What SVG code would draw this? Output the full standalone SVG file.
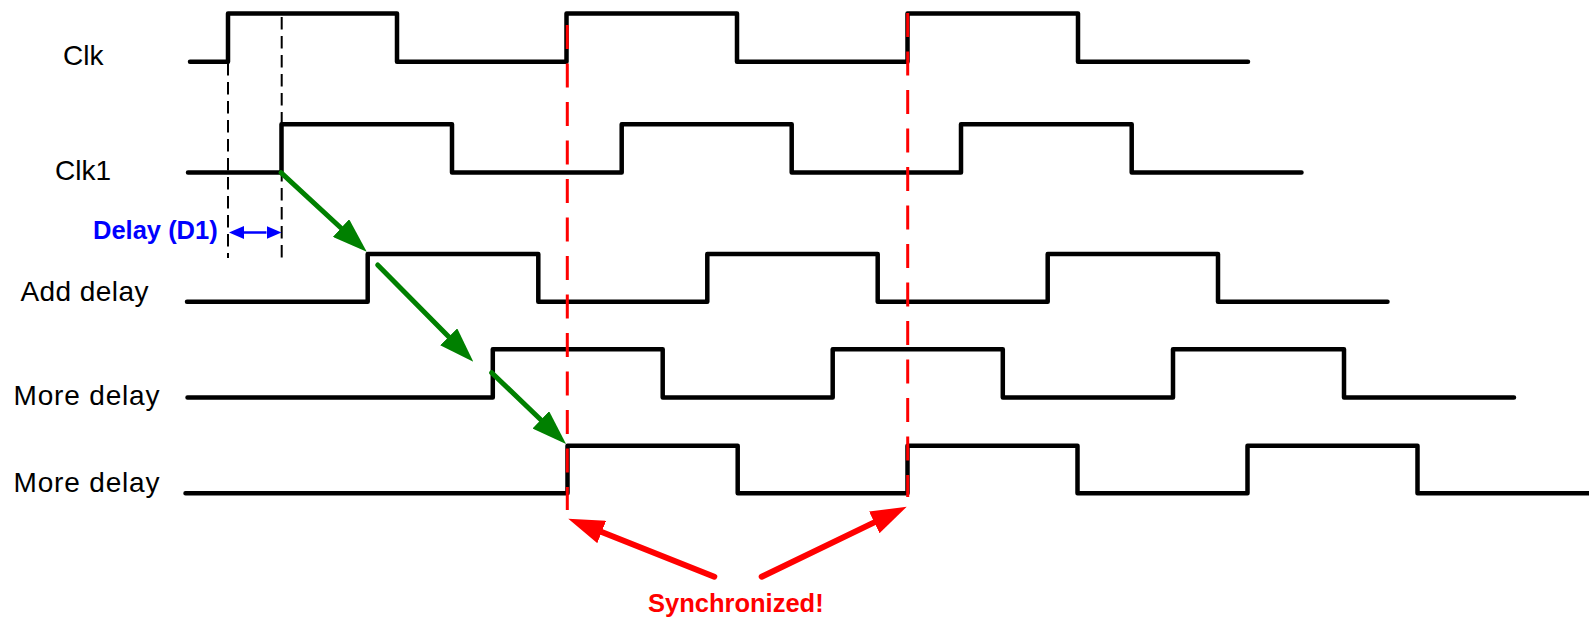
<svg xmlns="http://www.w3.org/2000/svg" width="1589" height="617" viewBox="0 0 1589 617">
  <style>
    .lbl { font-family: "Liberation Sans", Arial, sans-serif; font-size: 28px; fill: #000; }
    .wave { fill: none; stroke: #000; stroke-width: 4.5; stroke-linejoin: round; stroke-linecap: round; }
    .guide { stroke: #000; stroke-width: 2; stroke-dasharray: 12.5 6.5; fill: none; }
    .sync { stroke: #ff0000; stroke-width: 3; stroke-dasharray: 24 14.5; fill: none; }
    .step { stroke: #008000; stroke-width: 5; stroke-linecap: round; fill: none; marker-end: url(#headGreen); }
    .callout { stroke: #ff0000; stroke-width: 6; stroke-linecap: round; fill: none; marker-end: url(#headRed); }
    .span { stroke: #0000ff; stroke-width: 2.5; fill: none; marker-start: url(#headBlue); marker-end: url(#headBlue); }
    .bold { font-family: "Liberation Sans", Arial, sans-serif; font-weight: bold; font-size: 25.5px; }
  </style>
  <defs>
    <marker id="headGreen" markerUnits="userSpaceOnUse" markerWidth="35" markerHeight="24" viewBox="0 0 35 24" refX="0" refY="12" orient="auto">
      <path d="M0,0 L35,12 L0,24 Z" fill="#008000"/>
    </marker>
    <marker id="headRed" markerUnits="userSpaceOnUse" markerWidth="36" markerHeight="24" viewBox="0 0 36 24" refX="0" refY="12" orient="auto">
      <path d="M0,0 L36,12 L0,24 Z" fill="#ff0000"/>
    </marker>
    <marker id="headBlue" markerUnits="userSpaceOnUse" markerWidth="15" markerHeight="13" viewBox="0 0 15 13" refX="0" refY="6.5" orient="auto-start-reverse">
      <path d="M0,0 L15,6.5 L0,13 Z" fill="#0000ff"/>
    </marker>
  </defs>

  <!-- signals -->
  <g id="clk">
    <text class="lbl" x="63" y="64.5">Clk</text>
    <path class="wave" d="M190,61.7 H228 V13.5 H397 V61.7 H566.5 V13.5 H737 V61.7 H907.5 V13.5 H1078 V61.7 H1248"/>
  </g>
  <g id="clk1">
    <text class="lbl" x="55" y="180">Clk1</text>
    <path class="wave" d="M188,172.5 H281.5 V124.3 H452 V172.5 H621.7 V124.3 H791.7 V172.5 H961 V124.3 H1131.7 V172.5 H1301.5"/>
  </g>
  <g id="add-delay">
    <text class="lbl" x="20.5" y="300.5" textLength="128">Add delay</text>
    <path class="wave" d="M187,301.7 H367.7 V254 H538.3 V301.7 H707.3 V254 H877.7 V301.7 H1047.7 V254 H1218 V301.7 H1387.5"/>
  </g>
  <g id="more-delay-1">
    <text class="lbl" x="13.5" y="405" textLength="146">More delay</text>
    <path class="wave" d="M187.5,397.5 H492.8 V349.3 H662.7 V397.5 H832.7 V349.3 H1002.8 V397.5 H1173 V349.3 H1344 V397.5 H1514"/>
  </g>
  <g id="more-delay-2">
    <text class="lbl" x="13.5" y="491.5" textLength="146">More delay</text>
    <path class="wave" d="M185.5,493.3 H567.5 V445.8 H737.7 V493.3 H907.5 V445.8 H1077.5 V493.3 H1247.5 V445.8 H1417.5 V493.3 H1595"/>
  </g>

  <!-- annotations and connectors -->
  <g id="connectors">
    <line class="guide" x1="228" y1="63" x2="228" y2="258"/>
    <line class="guide" x1="281.7" y1="17" x2="281.7" y2="258"/>
    <line class="span" x1="244" y1="232.5" x2="266.5" y2="232.5"/>

    <line class="step" x1="281" y1="172.7" x2="341" y2="228"/>
    <line class="step" x1="377.7" y1="265" x2="448.7" y2="336.8"/>
    <line class="step" x1="491.7" y1="372.7" x2="540.8" y2="419.8"/>

    <line class="sync" x1="567.3" y1="25" x2="567.3" y2="510"/>
    <line class="sync" x1="907.7" y1="13" x2="907.7" y2="497"/>

    <line class="callout" x1="714.3" y1="576.7" x2="601.7" y2="532"/>
    <line class="callout" x1="761.7" y1="576.7" x2="874.3" y2="522.4"/>
  </g>

  <g id="notes">
    <text class="bold" x="93" y="238.5" fill="#0000ff">Delay (D1)</text>
    <text class="bold" x="648" y="611.5" fill="#ff0000">Synchronized!</text>
  </g>
</svg>
